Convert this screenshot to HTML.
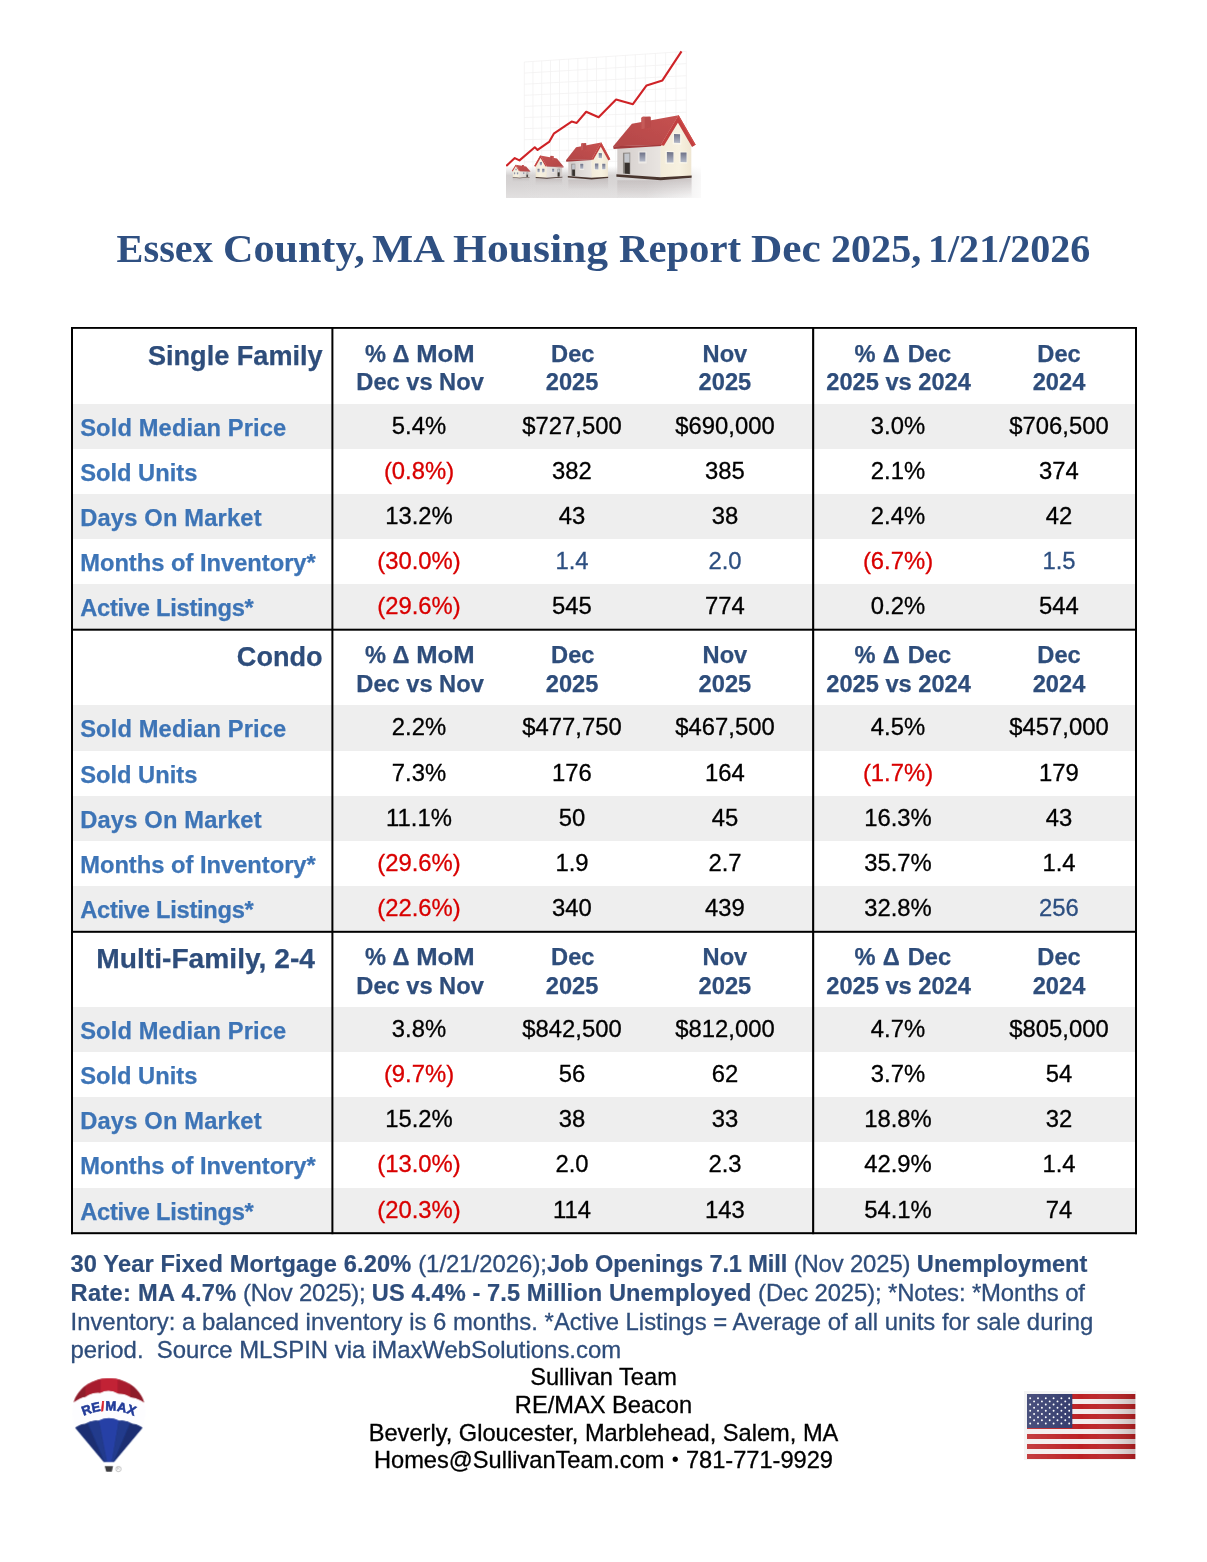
<!DOCTYPE html><html><head><meta charset="utf-8"><title>Essex County, MA Housing Report</title><style>
html,body{margin:0;padding:0;background:#fff}
body{width:1207px;height:1562px;position:relative;overflow:hidden;font-family:"Liberation Sans", Arial, Helvetica, sans-serif;color:#000}
.a{position:absolute;white-space:nowrap;line-height:1}
.c{transform:translateX(-50%);text-align:center}
.g{position:absolute;left:73px;width:1062px;background:#eee}
.l,.h,.t{-webkit-text-stroke:0.25px}.l{font-weight:bold;color:#3d74b6;font-size:23.7px;left:80.2px}
.v{font-size:23.84px;-webkit-text-stroke:0.3px}
.h{font-weight:bold;color:#2e4d7b;font-size:23.65px}
.t{font-weight:bold;color:#2e4d7b;font-size:27.1px;right:884.4px}
.r{color:#d90000}.b{color:#2d4f80}
.ln{position:absolute;background:#000}
</style></head><body>
<svg class="a" style="left:506px;top:50px" width="195" height="148" viewBox="0 0 195 148"><defs><linearGradient id="fl" x1="0" y1="0" x2="0" y2="1"><stop offset="0" stop-color="#d6d3d3" stop-opacity="0"/><stop offset="0.3" stop-color="#d3d0d0"/><stop offset="0.55" stop-color="#d6d3d3"/><stop offset="1" stop-color="#e2e0e0"/></linearGradient><linearGradient id="flx" x1="0" y1="0" x2="1" y2="0"><stop offset="0" stop-color="#fff" stop-opacity="0"/><stop offset="0.72" stop-color="#fff" stop-opacity="0.1"/><stop offset="1" stop-color="#fff" stop-opacity="0.85"/></linearGradient><linearGradient id="rf" x1="0" y1="1" x2="1" y2="0"><stop offset="0" stop-color="#b34748"/><stop offset="1" stop-color="#c65150"/></linearGradient><linearGradient id="sw" x1="0" y1="0" x2="1" y2="0"><stop offset="0" stop-color="#d3cdcb"/><stop offset="1" stop-color="#e9e5e1"/></linearGradient><linearGradient id="fw" x1="0" y1="0" x2="1" y2="0"><stop offset="0" stop-color="#f2ebd9"/><stop offset="0.6" stop-color="#f7f1e0"/><stop offset="1" stop-color="#efe6d2"/></linearGradient><linearGradient id="gl" x1="0" y1="0" x2="0" y2="1"><stop offset="0" stop-color="#6d7187"/><stop offset="1" stop-color="#b4b9c8"/></linearGradient><linearGradient id="rfl" x1="0" y1="0" x2="0" y2="1"><stop offset="0" stop-color="#bdb6b6" stop-opacity="0.75"/><stop offset="1" stop-color="#c8c2c2" stop-opacity="0"/></linearGradient><filter id="bl" x="-5%" y="-5%" width="110%" height="110%"><feGaussianBlur stdDeviation="0.45"/></filter><g id="hs"><polygon points="190,880 665,880 1005,855 1005,1080 190,1080" fill="url(#rfl)"/><polygon points="190,530 668,500 668,852 190,820" fill="url(#sw)"/><polygon points="665,500 855,245 1002,500 1002,834 665,852" fill="url(#fw)"/><polygon points="145,508 350,262 862,168 668,494" fill="url(#rf)"/><polygon points="143,508 668,492 674,506 150,537" fill="#a33a3c"/><polygon points="862,166 1050,490 1010,517 855,250 702,503 666,494" fill="#c2413f"/><polygon points="862,166 1050,490 1038,498 858,188" fill="#cf4c49"/><path d="M455,200 Q455,185 470,184 L545,180 Q558,180 558,195 L558,300 L455,322 Z" fill="#b94b4b"/><path d="M455,200 Q455,185 470,184 L490,183 L490,314 L455,322 Z" fill="#c65a59"/><polygon points="180,815 665,848 1006,828 1006,853 665,880 180,843" fill="#49362f"/><polygon points="252,578 332,576 332,815 252,808" fill="#8d8884"/><polygon points="268,590 324,588 324,684 268,684" fill="#c3c6cc"/><polygon points="272,692 326,692 326,812 272,808" fill="#37322e"/><polygon points="422,566 512,564 512,697 422,697" fill="#edeae6"/><polygon points="434,577 498,576 498,674 434,675" fill="url(#gl)"/><polygon points="798,358 892,364 892,492 798,486" fill="#faf6ea"/><polygon points="812,372 879,376 879,472 812,468" fill="url(#gl)"/><polygon points="718,558 812,561 812,702 718,699" fill="#faf6ea"/><polygon points="734,571 806,573 806,687 734,685" fill="url(#gl)"/><polygon points="870,566 957,567 957,697 870,696" fill="#faf6ea"/><polygon points="884,576 950,577 950,682 884,681" fill="url(#gl)"/></g></defs><g stroke="#f3f1f1" stroke-width="0.8" fill="none"><path d="M18.3 12.0V124"/><path d="M26.9 11.4V124"/><path d="M35.7 10.9V124"/><path d="M44.5 10.3V124"/><path d="M53.5 9.7V124"/><path d="M62.6 9.1V124"/><path d="M71.8 8.5V124"/><path d="M81.1 7.9V124"/><path d="M90.5 7.3V124"/><path d="M100.0 6.7V124"/><path d="M109.7 6.0V124"/><path d="M119.4 5.4V124"/><path d="M129.3 4.7V124"/><path d="M139.3 4.1V124"/><path d="M149.4 3.4V124"/><path d="M159.6 2.8V124"/><path d="M169.9 2.1V124"/><path d="M180.3 1.4V124"/><path d="M18.3 12.0L180.3 1.4"/><path d="M18.3 23.1L180.3 13.6"/><path d="M18.3 34.2L180.3 25.7"/><path d="M18.3 45.3L180.3 37.9"/><path d="M18.3 56.4L180.3 50.0"/><path d="M18.3 67.5L180.3 62.2"/><path d="M18.3 78.6L180.3 74.4"/><path d="M18.3 89.7L180.3 86.5"/><path d="M18.3 100.8L180.3 98.7"/><path d="M18.3 111.9L180.3 110.8"/><path d="M18.3 123.0L180.3 123.0"/></g><rect x="0" y="116" width="195" height="32" fill="url(#fl)"/><rect x="0" y="116" width="195" height="32" fill="url(#flx)"/><g filter="url(#bl)"><polyline points="0.2,116.1 8.8,108.1 13.5,110.4 28.8,97.3 31.6,99.9 43.1,91.9 47.8,83.7 65.6,71.6 70.7,72.9 80.2,61.8 92.6,67.2 110.1,49.6 126.9,54.2 140.6,35.4 156.4,30.4 175.5,1.4" fill="none" stroke="#cf2226" stroke-width="2.1" stroke-linejoin="round"/><use href="#hs" transform="translate(24.30 114.80) scale(-0.02038 0.01887) translate(-145 -168)"/><use href="#hs" transform="translate(57.60 105.40) scale(-0.03245 0.03282) translate(-145 -168)"/><use href="#hs" transform="translate(60.10 92.40) scale(0.04884 0.05211) translate(-145 -168)"/><use href="#hs" transform="translate(107.20 65.30) scale(0.09114 0.09113) translate(-145 -168)"/></g></svg>
<div id="title" style="position:absolute;left:0;top:0;font-family:'Liberation Serif','DejaVu Serif',serif;font-weight:bold;font-size:40.3px;color:#2f5082"><span class="a" style="left:116.60px;top:229.00px;transform-origin:0 0;transform:scaleX(1.0000)">Essex</span><span class="a" style="left:222.90px;top:229.00px;transform-origin:0 0;transform:scaleX(1.0456)">County,</span><span class="a" style="left:372.30px;top:229.00px;transform-origin:0 0;transform:scaleX(1.0820)">MA</span><span class="a" style="left:452.60px;top:229.00px;transform-origin:0 0;transform:scaleX(1.0825)">Housing</span><span class="a" style="left:619.00px;top:229.00px;transform-origin:0 0;transform:scaleX(1.0097)">Report</span><span class="a" style="left:751.20px;top:229.00px;transform-origin:0 0;transform:scaleX(1.0750)">Dec</span><span class="a" style="left:830.90px;top:229.00px;transform-origin:0 0;transform:scaleX(0.9950)">2025,</span><span class="a" style="left:928.20px;top:229.00px;transform-origin:0 0;transform:scaleX(0.9930)">1/21/2026</span></div>
<div class="g" style="top:403.80px;height:45.15px"></div>
<div class="g" style="top:494.10px;height:45.15px"></div>
<div class="g" style="top:584.40px;height:45.15px"></div>
<div class="g" style="top:705.40px;height:45.15px"></div>
<div class="g" style="top:795.70px;height:45.15px"></div>
<div class="g" style="top:886.00px;height:45.15px"></div>
<div class="g" style="top:1007.00px;height:45.15px"></div>
<div class="g" style="top:1097.30px;height:45.15px"></div>
<div class="g" style="top:1187.60px;height:45.15px"></div>
<div class="a t" style="top:342px">Single Family</div>
<div class="a c h" style="left:419.95px;top:343px"><span style="word-spacing:0.6px">% Δ <span style="display:inline-block;transform:scaleX(1.085);transform-origin:0 50%;margin-right:4.4px">MoM</span></span></div>
<div class="a c h" style="left:420.05px;top:371px">Dec vs Nov</div>
<div class="a c h" style="left:572.8px;top:343px">Dec</div>
<div class="a c h" style="left:572.1px;top:371px">2025</div>
<div class="a c h" style="left:724.9px;top:343px">Nov</div>
<div class="a c h" style="left:724.9px;top:371px">2025</div>
<div class="a c h" style="left:902.85px;top:343px"><span style="word-spacing:1.5px">% Δ Dec</span></div>
<div class="a c h" style="left:898.55px;top:371px">2025 vs 2024</div>
<div class="a c h" style="left:1059px;top:343px">Dec</div>
<div class="a c h" style="left:1059px;top:371px">2024</div>
<div class="a l" style="top:417px;letter-spacing:0.13px">Sold Median Price</div>
<div class="a c v" style="left:419px;top:414.00px">5.4%</div>
<div class="a c v" style="left:572px;top:414.00px">$727,500</div>
<div class="a c v" style="left:725px;top:414.00px">$690,000</div>
<div class="a c v" style="left:898px;top:414.00px">3.0%</div>
<div class="a c v" style="left:1059px;top:414.00px">$706,500</div>
<div class="a l" style="top:462px">Sold Units</div>
<div class="a c v r" style="left:419px;top:459.00px">(0.8%)</div>
<div class="a c v" style="left:572px;top:459.00px">382</div>
<div class="a c v" style="left:725px;top:459.00px">385</div>
<div class="a c v" style="left:898px;top:459.00px">2.1%</div>
<div class="a c v" style="left:1059px;top:459.00px">374</div>
<div class="a l" style="top:507px;letter-spacing:0.18px">Days On Market</div>
<div class="a c v" style="left:419px;top:504.00px">13.2%</div>
<div class="a c v" style="left:572px;top:504.00px">43</div>
<div class="a c v" style="left:725px;top:504.00px">38</div>
<div class="a c v" style="left:898px;top:504.00px">2.4%</div>
<div class="a c v" style="left:1059px;top:504.00px">42</div>
<div class="a l" style="top:552px">Months of Inventory*</div>
<div class="a c v r" style="left:419px;top:549.00px">(30.0%)</div>
<div class="a c v b" style="left:572px;top:549.00px">1.4</div>
<div class="a c v b" style="left:725px;top:549.00px">2.0</div>
<div class="a c v r" style="left:898px;top:549.00px">(6.7%)</div>
<div class="a c v b" style="left:1059px;top:549.00px">1.5</div>
<div class="a l" style="top:597px;letter-spacing:-0.27px">Active Listings*</div>
<div class="a c v r" style="left:419px;top:594.00px">(29.6%)</div>
<div class="a c v" style="left:572px;top:594.00px">545</div>
<div class="a c v" style="left:725px;top:594.00px">774</div>
<div class="a c v" style="left:898px;top:594.00px">0.2%</div>
<div class="a c v" style="left:1059px;top:594.00px">544</div>
<div class="a t" style="top:643px">Condo</div>
<div class="a c h" style="left:419.95px;top:644px"><span style="word-spacing:0.6px">% Δ <span style="display:inline-block;transform:scaleX(1.085);transform-origin:0 50%;margin-right:4.4px">MoM</span></span></div>
<div class="a c h" style="left:420.05px;top:673px">Dec vs Nov</div>
<div class="a c h" style="left:572.8px;top:644px">Dec</div>
<div class="a c h" style="left:572.1px;top:673px">2025</div>
<div class="a c h" style="left:724.9px;top:644px">Nov</div>
<div class="a c h" style="left:724.9px;top:673px">2025</div>
<div class="a c h" style="left:902.85px;top:644px"><span style="word-spacing:1.5px">% Δ Dec</span></div>
<div class="a c h" style="left:898.55px;top:673px">2025 vs 2024</div>
<div class="a c h" style="left:1059px;top:644px">Dec</div>
<div class="a c h" style="left:1059px;top:673px">2024</div>
<div class="a l" style="top:718px;letter-spacing:0.13px">Sold Median Price</div>
<div class="a c v" style="left:419px;top:715.00px">2.2%</div>
<div class="a c v" style="left:572px;top:715.00px">$477,750</div>
<div class="a c v" style="left:725px;top:715.00px">$467,500</div>
<div class="a c v" style="left:898px;top:715.00px">4.5%</div>
<div class="a c v" style="left:1059px;top:715.00px">$457,000</div>
<div class="a l" style="top:764px">Sold Units</div>
<div class="a c v" style="left:419px;top:761.00px">7.3%</div>
<div class="a c v" style="left:572px;top:761.00px">176</div>
<div class="a c v" style="left:725px;top:761.00px">164</div>
<div class="a c v r" style="left:898px;top:761.00px">(1.7%)</div>
<div class="a c v" style="left:1059px;top:761.00px">179</div>
<div class="a l" style="top:809px;letter-spacing:0.18px">Days On Market</div>
<div class="a c v" style="left:419px;top:806.00px">11.1%</div>
<div class="a c v" style="left:572px;top:806.00px">50</div>
<div class="a c v" style="left:725px;top:806.00px">45</div>
<div class="a c v" style="left:898px;top:806.00px">16.3%</div>
<div class="a c v" style="left:1059px;top:806.00px">43</div>
<div class="a l" style="top:854px">Months of Inventory*</div>
<div class="a c v r" style="left:419px;top:851.00px">(29.6%)</div>
<div class="a c v" style="left:572px;top:851.00px">1.9</div>
<div class="a c v" style="left:725px;top:851.00px">2.7</div>
<div class="a c v" style="left:898px;top:851.00px">35.7%</div>
<div class="a c v" style="left:1059px;top:851.00px">1.4</div>
<div class="a l" style="top:899px;letter-spacing:-0.27px">Active Listings*</div>
<div class="a c v r" style="left:419px;top:896.00px">(22.6%)</div>
<div class="a c v" style="left:572px;top:896.00px">340</div>
<div class="a c v" style="left:725px;top:896.00px">439</div>
<div class="a c v" style="left:898px;top:896.00px">32.8%</div>
<div class="a c v b" style="left:1059px;top:896.00px">256</div>
<div class="a t" style="top:945px;transform-origin:100% 50%;transform:scaleX(1.04)">Multi-Family, 2-4&nbsp;</div>
<div class="a c h" style="left:419.95px;top:946px"><span style="word-spacing:0.6px">% Δ <span style="display:inline-block;transform:scaleX(1.085);transform-origin:0 50%;margin-right:4.4px">MoM</span></span></div>
<div class="a c h" style="left:420.05px;top:975px">Dec vs Nov</div>
<div class="a c h" style="left:572.8px;top:946px">Dec</div>
<div class="a c h" style="left:572.1px;top:975px">2025</div>
<div class="a c h" style="left:724.9px;top:946px">Nov</div>
<div class="a c h" style="left:724.9px;top:975px">2025</div>
<div class="a c h" style="left:902.85px;top:946px"><span style="word-spacing:1.5px">% Δ Dec</span></div>
<div class="a c h" style="left:898.55px;top:975px">2025 vs 2024</div>
<div class="a c h" style="left:1059px;top:946px">Dec</div>
<div class="a c h" style="left:1059px;top:975px">2024</div>
<div class="a l" style="top:1020px;letter-spacing:0.13px">Sold Median Price</div>
<div class="a c v" style="left:419px;top:1017.00px">3.8%</div>
<div class="a c v" style="left:572px;top:1017.00px">$842,500</div>
<div class="a c v" style="left:725px;top:1017.00px">$812,000</div>
<div class="a c v" style="left:898px;top:1017.00px">4.7%</div>
<div class="a c v" style="left:1059px;top:1017.00px">$805,000</div>
<div class="a l" style="top:1065px">Sold Units</div>
<div class="a c v r" style="left:419px;top:1062.00px">(9.7%)</div>
<div class="a c v" style="left:572px;top:1062.00px">56</div>
<div class="a c v" style="left:725px;top:1062.00px">62</div>
<div class="a c v" style="left:898px;top:1062.00px">3.7%</div>
<div class="a c v" style="left:1059px;top:1062.00px">54</div>
<div class="a l" style="top:1110px;letter-spacing:0.18px">Days On Market</div>
<div class="a c v" style="left:419px;top:1107.00px">15.2%</div>
<div class="a c v" style="left:572px;top:1107.00px">38</div>
<div class="a c v" style="left:725px;top:1107.00px">33</div>
<div class="a c v" style="left:898px;top:1107.00px">18.8%</div>
<div class="a c v" style="left:1059px;top:1107.00px">32</div>
<div class="a l" style="top:1155px">Months of Inventory*</div>
<div class="a c v r" style="left:419px;top:1152.00px">(13.0%)</div>
<div class="a c v" style="left:572px;top:1152.00px">2.0</div>
<div class="a c v" style="left:725px;top:1152.00px">2.3</div>
<div class="a c v" style="left:898px;top:1152.00px">42.9%</div>
<div class="a c v" style="left:1059px;top:1152.00px">1.4</div>
<div class="a l" style="top:1201px;letter-spacing:-0.27px">Active Listings*</div>
<div class="a c v r" style="left:419px;top:1198.00px">(20.3%)</div>
<div class="a c v" style="left:572px;top:1198.00px">114</div>
<div class="a c v" style="left:725px;top:1198.00px">143</div>
<div class="a c v" style="left:898px;top:1198.00px">54.1%</div>
<div class="a c v" style="left:1059px;top:1198.00px">74</div>
<svg class="a" style="left:0;top:0" width="1207" height="1562" viewBox="0 0 1207 1562">
<rect x="71" y="327.00" width="1066" height="1.85"/>
<rect x="71" y="628.70" width="1066" height="2.00"/>
<rect x="71" y="930.80" width="1066" height="2.00"/>
<rect x="71" y="1232.20" width="1066" height="2.00"/>
<rect x="71.00" y="327.00" width="2.00" height="907.20"/>
<rect x="331.40" y="327.00" width="2.00" height="907.20"/>
<rect x="812.10" y="327.00" width="2.10" height="907.20"/>
<rect x="1135.00" y="327.00" width="2.00" height="907.20"/>
</svg>
<style>.n{left:70.5px;font-size:23.9px;color:#2e4d7b;-webkit-text-stroke:0.3px}.n b{font-size:23.62px;-webkit-text-stroke:0.2px}.f{font-size:23.64px;-webkit-text-stroke:0.3px}</style>
<div class="a n" style="top:1252px"><b style="letter-spacing:0.15px">30 Year Fixed Mortgage 6.20%</b> (1/21/2026);<b style="letter-spacing:-0.12px">Job Openings 7.1 Mill</b><span style="letter-spacing:-0.15px"> (Nov 2025) </span><b>Unemployment</b></div>
<div class="a n" style="top:1281px"><b style="letter-spacing:0.33px">Rate: MA 4.7%</b><span style="letter-spacing:-0.22px"> (Nov 2025); </span><b style="letter-spacing:0.1px">US 4.4% - 7.5 Million Unemployed</b><span style="letter-spacing:-0.13px"> (Dec 2025); *Notes: *Months of</span></div>
<div class="a n" style="top:1310px">Inventory: a balanced inventory is 6 months. *Active Listings = Average of all units for sale during</div>
<div class="a n" style="top:1338px">period.&nbsp; Source MLSPIN via iMaxWebSolutions.com</div>
<div class="a c f" style="left:603.5px;top:1366px">Sullivan Team</div>
<div class="a c f" style="left:603.5px;top:1394px">RE/MAX Beacon</div>
<div class="a c f" style="left:603.5px;top:1422px">Beverly, Gloucester, Marblehead, Salem, MA</div>
<div class="a c f" style="left:603.5px;top:1449px">Homes@SullivanTeam.com <span style="display:inline-block;width:8.27px;text-align:center;font-size:20px;line-height:1;position:relative;top:-1.6px;-webkit-text-stroke:0">•</span> 781-771-9929</div>
<svg class="a" style="left:60px;top:1370px" width="100" height="110" viewBox="0 0 1207 1328"><defs><clipPath id="bc"><path d="M590 100C820 100 1030 260 1030 500C1030 600 1010 660 990 705L650 1112H530L190 705C170 660 150 600 150 500C150 260 360 100 590 100Z"/></clipPath><path id="arc" d="M246 572Q590 405 934 572"/><filter id="bb" x="-5%" y="-5%" width="110%" height="110%"><feGaussianBlur stdDeviation="5"/></filter></defs><g filter="url(#bb)"><g clip-path="url(#bc)"><rect x="100" y="60" width="1000" height="1100" fill="#fdfdff"/><clipPath id="cc"><path d="M150 400Q235 330 305 322Q400 265 485 275Q590 215 705 283Q790 280 860 330Q950 340 1030 400V60H150Z"/></clipPath><g clip-path="url(#cc)"><rect x="100" y="60" width="1000" height="400" fill="#a81f2e"/><rect x="100" y="60" width="210" height="400" fill="#8e1b2a"/><rect x="310" y="60" width="180" height="400" fill="#a81f2e"/><rect x="490" y="60" width="210" height="400" fill="#c22135"/><rect x="700" y="60" width="150" height="400" fill="#a81f2e"/><rect x="850" y="60" width="250" height="400" fill="#8e1b2a"/></g><clipPath id="bl2"><path d="M150 720Q240 650 300 652Q380 600 462 612Q590 545 718 612Q800 600 880 652Q940 650 1030 720V1200H150Z"/></clipPath><g clip-path="url(#bl2)"><rect x="100" y="540" width="1000" height="600" fill="#213a8c"/><polygon points="100,560 300,560 545,1120 100,1120" fill="#1c2f72"/><polygon points="300,560 462,560 572,1120 540,1120" fill="#213a8c"/><polygon points="462,560 718,560 622,1120 572,1120" fill="#2841a6"/><polygon points="718,560 880,560 648,1120 622,1120" fill="#213a8c"/><polygon points="880,560 1100,560 1100,1120 645,1120" fill="#1c2f72"/></g></g><polygon points="540,1162 640,1162 625,1228 558,1228" fill="#3a3a3e"/><circle cx="705" cy="1195" r="32" fill="none" stroke="#aaa" stroke-width="9"/></g><text font-family="'Liberation Sans',Arial,sans-serif" font-weight="bold" font-size="158" fill="#223b99" stroke="#223b99" stroke-width="7" letter-spacing="3" text-anchor="middle"><textPath href="#arc" startOffset="50%">RE<tspan fill="#d7232e" stroke="#d7232e">/</tspan>MAX</textPath></text><text x="705" y="1212" font-family="'Liberation Sans',Arial,sans-serif" font-size="44" fill="#aaa" text-anchor="middle">R</text></svg>
<svg class="a" style="left:1020px;top:1386px" width="120" height="80" viewBox="1020 1386 120 80"><defs><filter id="fb" x="-5%" y="-5%" width="110%" height="110%"><feGaussianBlur stdDeviation="0.5"/></filter><linearGradient id="fg" x1="0" y1="0" x2="1" y2="0"><stop offset="0" stop-color="#fff" stop-opacity="0.12"/><stop offset="0.5" stop-color="#fff" stop-opacity="0"/><stop offset="1" stop-color="#300" stop-opacity="0.22"/></linearGradient></defs><rect x="1024" y="1391" width="112" height="69" fill="#f4f4f4"/><g filter="url(#fb)"><rect x="1027" y="1394" width="108.3" height="65" fill="#f3eeee"/><rect x="1027" y="1394.00" width="108.3" height="5" fill="#bc2326"/><rect x="1027" y="1404.00" width="108.3" height="5" fill="#bc2326"/><rect x="1027" y="1414.00" width="108.3" height="5" fill="#bc2326"/><rect x="1027" y="1424.00" width="108.3" height="5" fill="#bc2326"/><rect x="1027" y="1434.00" width="108.3" height="5" fill="#bc2326"/><rect x="1027" y="1444.00" width="108.3" height="5" fill="#bc2326"/><rect x="1027" y="1454.00" width="108.3" height="5" fill="#bc2326"/><rect x="1027" y="1394" width="45.3" height="34" fill="#323a6c"/><circle cx="1030.2" cy="1398.2" r="0.95" fill="#fff"/><circle cx="1038.0" cy="1398.2" r="0.95" fill="#fff"/><circle cx="1045.8" cy="1398.2" r="0.95" fill="#fff"/><circle cx="1053.6" cy="1398.2" r="0.95" fill="#fff"/><circle cx="1061.4" cy="1398.2" r="0.95" fill="#fff"/><circle cx="1069.2" cy="1398.2" r="0.95" fill="#fff"/><circle cx="1034.1" cy="1401.4" r="0.95" fill="#fff"/><circle cx="1041.9" cy="1401.4" r="0.95" fill="#fff"/><circle cx="1049.7" cy="1401.4" r="0.95" fill="#fff"/><circle cx="1057.5" cy="1401.4" r="0.95" fill="#fff"/><circle cx="1065.3" cy="1401.4" r="0.95" fill="#fff"/><circle cx="1030.2" cy="1404.5" r="0.95" fill="#fff"/><circle cx="1038.0" cy="1404.5" r="0.95" fill="#fff"/><circle cx="1045.8" cy="1404.5" r="0.95" fill="#fff"/><circle cx="1053.6" cy="1404.5" r="0.95" fill="#fff"/><circle cx="1061.4" cy="1404.5" r="0.95" fill="#fff"/><circle cx="1069.2" cy="1404.5" r="0.95" fill="#fff"/><circle cx="1034.1" cy="1407.7" r="0.95" fill="#fff"/><circle cx="1041.9" cy="1407.7" r="0.95" fill="#fff"/><circle cx="1049.7" cy="1407.7" r="0.95" fill="#fff"/><circle cx="1057.5" cy="1407.7" r="0.95" fill="#fff"/><circle cx="1065.3" cy="1407.7" r="0.95" fill="#fff"/><circle cx="1030.2" cy="1410.8" r="0.95" fill="#fff"/><circle cx="1038.0" cy="1410.8" r="0.95" fill="#fff"/><circle cx="1045.8" cy="1410.8" r="0.95" fill="#fff"/><circle cx="1053.6" cy="1410.8" r="0.95" fill="#fff"/><circle cx="1061.4" cy="1410.8" r="0.95" fill="#fff"/><circle cx="1069.2" cy="1410.8" r="0.95" fill="#fff"/><circle cx="1034.1" cy="1414.0" r="0.95" fill="#fff"/><circle cx="1041.9" cy="1414.0" r="0.95" fill="#fff"/><circle cx="1049.7" cy="1414.0" r="0.95" fill="#fff"/><circle cx="1057.5" cy="1414.0" r="0.95" fill="#fff"/><circle cx="1065.3" cy="1414.0" r="0.95" fill="#fff"/><circle cx="1030.2" cy="1417.2" r="0.95" fill="#fff"/><circle cx="1038.0" cy="1417.2" r="0.95" fill="#fff"/><circle cx="1045.8" cy="1417.2" r="0.95" fill="#fff"/><circle cx="1053.6" cy="1417.2" r="0.95" fill="#fff"/><circle cx="1061.4" cy="1417.2" r="0.95" fill="#fff"/><circle cx="1069.2" cy="1417.2" r="0.95" fill="#fff"/><circle cx="1034.1" cy="1420.3" r="0.95" fill="#fff"/><circle cx="1041.9" cy="1420.3" r="0.95" fill="#fff"/><circle cx="1049.7" cy="1420.3" r="0.95" fill="#fff"/><circle cx="1057.5" cy="1420.3" r="0.95" fill="#fff"/><circle cx="1065.3" cy="1420.3" r="0.95" fill="#fff"/><circle cx="1030.2" cy="1423.5" r="0.95" fill="#fff"/><circle cx="1038.0" cy="1423.5" r="0.95" fill="#fff"/><circle cx="1045.8" cy="1423.5" r="0.95" fill="#fff"/><circle cx="1053.6" cy="1423.5" r="0.95" fill="#fff"/><circle cx="1061.4" cy="1423.5" r="0.95" fill="#fff"/><circle cx="1069.2" cy="1423.5" r="0.95" fill="#fff"/><rect x="1027" y="1394" width="108.3" height="65" fill="url(#fg)"/></g></svg>
</body></html>
